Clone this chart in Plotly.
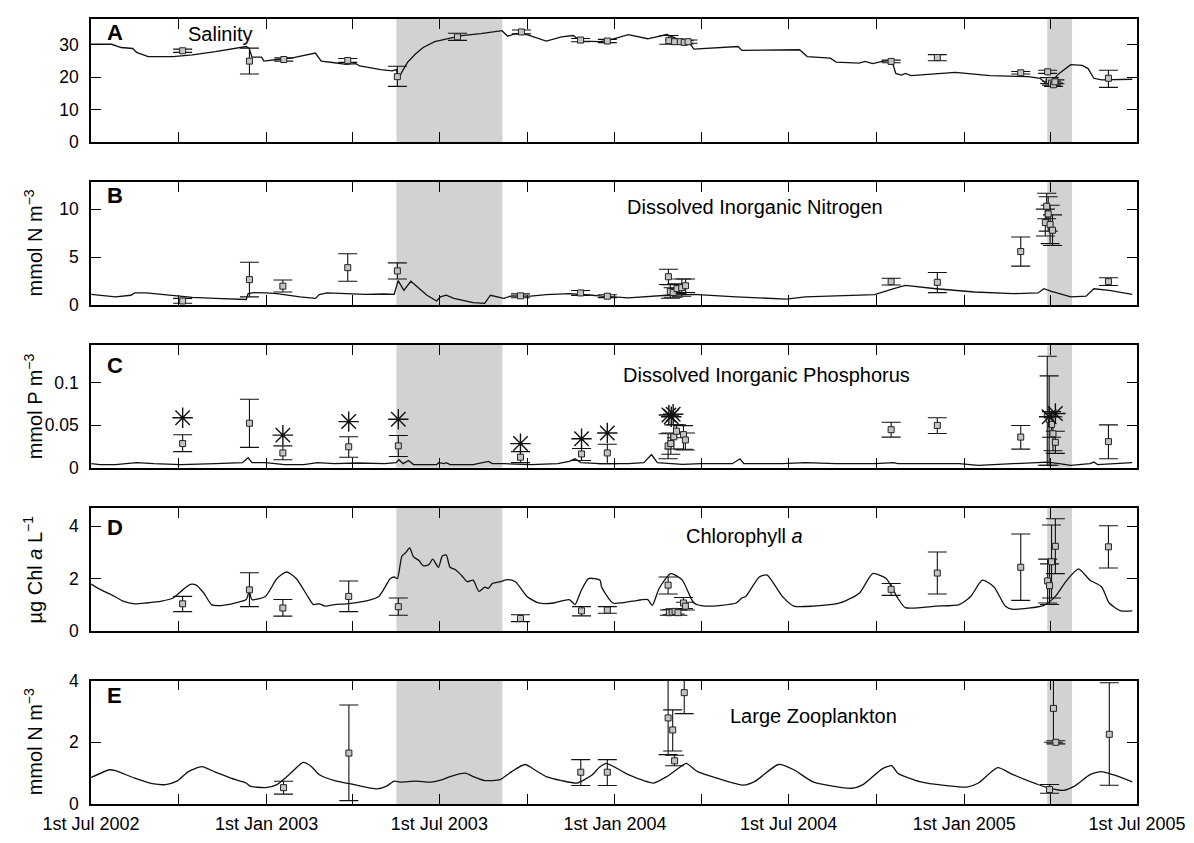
import plotly.graph_objects as go
from plotly.subplots import make_subplots
import pandas as pd

START = pd.Timestamp('2002-07-01')
END = pd.Timestamp('2005-07-01')

# ---------------- Data (days since 1 Jul 2002) ----------------
# Panel A: salinity model
sal_days = [0, 21.5, 31.6, 43.7, 47.7, 59.8, 86, 106.2, 130.3, 162.6, 165.8, 168.6, 178.7, 181.1, 194.8,
            211, 235.1, 241.2, 255.3, 267.4, 277.4, 281.5, 303.6, 315.7, 319.8, 322.6, 325.8, 331.8, 339.9,
            348, 360.1, 372.2, 388.3, 408.4, 430.6, 436.6, 444.7, 456.8, 477, 493.1, 505.2, 513.2, 533.4,
            543, 563.1, 583.3, 603.4, 615.5, 625.6, 631.7, 678, 682, 742.5, 750.5, 774.7, 780.8, 805, 811,
            819.1, 829.1, 839.2, 843.2, 849.3, 853.3, 859.4, 905.7, 925.9, 942, 982.3, 994.4, 1000.4,
            1006.5, 1014.5, 1026.6, 1038.7, 1044.8, 1050.8, 1058.9, 1091.1]
sal_vals = [30.2, 30.2, 29.2, 28.9, 27.7, 26.4, 26.4, 26.9, 27.9, 29.5, 28.9, 26.2, 26.2, 25.0, 25.5,
            26.0, 27.5, 25.0, 24.5, 24.0, 24.2, 23.5, 22.4, 22.0, 22.4, 19.7, 21.7, 24.7, 27.2,
            29.2, 31.0, 31.9, 32.9, 33.5, 34.4, 32.7, 33.5, 33.2, 31.2, 32.5, 32.9, 31.2, 31.0,
            31.5, 33.2, 31.9, 33.2, 31.7, 31.2, 28.7, 29.5, 28.3, 28.5, 26.4, 25.9, 24.7, 24.4, 24.9,
            24.2, 24.9, 25.2, 21.2, 20.7, 21.2, 20.5, 21.5, 21.0, 20.5, 20.2, 19.7, 18.2,
            18.7, 21.2, 23.9, 23.7, 22.7, 19.7, 19.2, 19.4]
sal_obs_days = [96, 166, 202, 269, 321, 384, 451, 513, 541, 605.5, 611.5, 617.5, 621.6, 625.6,
                838.4, 886.8, 974.2, 1002.4, 1004.4, 1006.5, 1008.5, 1010, 1066.1]
sal_obs = [28.2, 25.0, 25.5, 25.2, 20.2, 32.5, 34.0, 31.5, 31.2, 31.3, 31.0, 31.0, 30.8, 31.0,
           24.9, 26.1, 21.4, 21.7, 19.0, 18.2, 17.7, 18.6, 19.7]
sal_err_hi = [0.5, 4.0, 0.5, 0.6, 3.2, 1.1, 0.6, 0.5, 0.5, 1.6, 0.5, 0.5, 0.5, 0.5,
              0.4, 0.9, 0.4, 0.5, 0.9, 0.6, 0.5, 0.6, 2.5]
sal_err_lo = [0.5, 4.0, 0.5, 0.6, 3.0, 1.1, 0.6, 0.5, 0.5, 1.1, 0.5, 0.5, 0.5, 0.5,
              0.4, 1.0, 0.4, 0.5, 0.9, 0.6, 0.5, 0.6, 2.8]

# Panel B: dissolved inorganic nitrogen
din_days = [0.2, 13.5, 25.6, 41.7, 45.7, 57.8, 73.9, 90.0, 106.2, 130.3, 162.6, 164.6, 170.6, 182.7, 194.8,
            219.0, 235.1, 239.2, 247.2, 267.4, 287.5, 307.7, 317.7, 321.8, 327.8, 335.1, 343.9, 352.0,
            362.1, 366.1, 372.2, 380.2, 400.4, 412.5, 418.5, 424.5, 432.6, 440.7, 460.8, 477.0, 501.1,
            525.3, 534.9, 563.1, 583.3, 603.4, 631.7, 676.0, 728.4, 748.5, 780.8, 821.1, 841.2, 853.3,
            885.6, 905.7, 925.9, 966.2, 992.4, 998.4, 1006.5, 1026.6, 1042.7, 1050.8, 1066.9, 1091.1]
din_vals = [1.11, 0.95, 0.84, 1.01, 1.25, 1.25, 1.11, 0.95, 0.78, 0.68, 0.57, 1.18, 1.28, 1.25, 1.18,
            0.84, 0.68, 1.08, 1.25, 1.18, 1.11, 1.14, 1.11, 2.53, 1.52, 2.47, 1.69, 1.01,
            0.41, 0.84, 1.01, 0.68, 0.24, 0.17, 1.01, 0.84, 0.68, 0.95, 0.91, 1.08, 1.18,
            1.01, 0.91, 0.74, 0.91, 1.01, 1.11, 0.84, 0.61, 0.84, 0.95, 1.08, 1.69, 2.03,
            1.69, 1.52, 1.35, 1.18, 1.25, 1.69, 1.42, 0.84, 0.91, 1.69, 1.52, 1.11]
din_obs_days = [96, 166, 201, 269, 321, 450, 513, 541, 605, 607, 610, 614, 619, 623,
                838.4, 886.8, 974.2, 1000, 1001.4, 1003, 1005, 1007.5, 1066.1]
din_obs = [0.41, 2.64, 1.96, 3.89, 3.55, 0.95, 1.25, 0.91, 2.94, 1.4, 1.3, 1.7, 1.8, 2.0,
           2.43, 2.36, 5.57, 8.6, 10.3, 9.5, 8.4, 7.8, 2.43]
din_err_hi = [0.27, 1.82, 0.64, 1.45, 0.84, 0.2, 0.25, 0.15, 0.78, 0.7, 0.5, 0.5, 0.9, 0.7,
              0.35, 1.02, 1.52, 1.4, 1.36, 1.8, 2.0, 1.6, 0.4]
din_err_lo = [0.24, 1.8, 0.61, 1.42, 0.85, 0.2, 0.25, 0.15, 0.81, 0.7, 0.5, 0.5, 0.9, 0.7,
              0.35, 1.08, 1.52, 1.4, 1.3, 1.8, 2.0, 1.6, 0.4]

# Panel C: dissolved inorganic phosphorus
dip_days = [0.2, 9.4, 25.6, 47.7, 65.9, 94.1, 130.3, 158.5, 164.6, 168.6, 182.7, 202.9, 223.0, 237.1,
            255.3, 279.5, 307.7, 319.8, 322.6, 327.0, 332.7, 337.9, 362.1, 364.1, 370.1, 372.2, 376.2,
            400.4, 416.5, 420.5, 432.6, 460.8, 489.0, 501.1, 507.2, 513.2, 533.4,
            534.9, 563.1, 579.3, 587.3, 593.4, 607.5, 619.6, 639.7, 672.0, 680.0, 684.0, 724.4, 748.5,
            780.8, 821.1, 841.2, 845.3, 885.6, 909.7, 929.9, 966.2, 994.4, 1002.4, 1014.5, 1026.6,
            1046.8, 1050.8, 1054.8, 1091.1]
dip_vals = [0.0049, 0.0038, 0.0038, 0.0061, 0.0049, 0.0038, 0.0049, 0.0061, 0.0118, 0.0061, 0.0061,
            0.0038, 0.0038, 0.0061, 0.0049, 0.0057, 0.0049, 0.0061, 0.0095, 0.0049, 0.0087, 0.0038,
            0.0038, 0.0061, 0.0049, 0.0061, 0.0038, 0.0038, 0.0076, 0.0049, 0.0049, 0.0038, 0.0049,
            0.0076, 0.0106, 0.0061, 0.0049,
            0.0049, 0.0049, 0.0061, 0.0156, 0.0061, 0.0049, 0.0042, 0.0049, 0.0049, 0.0106, 0.0049,
            0.0049, 0.0061, 0.0049, 0.0049, 0.0061, 0.0049, 0.0049, 0.0049, 0.0030, 0.0049, 0.0061,
            0.0068, 0.0049, 0.0030, 0.0049, 0.0068, 0.0038, 0.0061]
dip_obs_days = [96, 166, 201, 270, 322, 450, 514, 541, 604.7, 607.5, 610.7, 613.5, 620.8, 622.8,
                838.4, 886.8, 974.2, 1002, 1004, 1006.5, 1008, 1010.5, 1066.1]
dip_obs = [0.0285, 0.0524, 0.0175, 0.0247, 0.0258, 0.0125, 0.0163, 0.0175, 0.0258, 0.0285, 0.0365,
           0.043, 0.039, 0.0327, 0.0448, 0.0498, 0.0361, 0.062, 0.057, 0.051, 0.040, 0.030, 0.0308]
dip_err_hi = [0.0103, 0.0282, 0.0083, 0.0118, 0.0122, 0.0065, 0.0065, 0.0102, 0.0142, 0.0125, 0.014,
              0.0076, 0.0106, 0.0083, 0.0088, 0.0091, 0.0137, 0.069, 0.051, 0.015, 0.02, 0.013, 0.0197]
dip_err_lo = [0.0095, 0.0284, 0.008, 0.0122, 0.0125, 0.0064, 0.0076, 0.0126, 0.0152, 0.0125, 0.0144,
              0.0076, 0.0171, 0.0117, 0.0087, 0.0095, 0.0141, 0.059, 0.054, 0.015, 0.02, 0.013, 0.0202]
dip_star_days = [96, 201, 270, 322, 450, 514, 541, 605.5, 608, 610, 1004, 1010.5]
dip_star = [0.0589, 0.0384, 0.0543, 0.057, 0.0285, 0.0342, 0.041, 0.062, 0.060, 0.063, 0.060, 0.0638]

# Panel D: chlorophyll a
chl_days = [0.2, 9.4, 21.5, 33.6, 45.7, 57.8, 73.9, 86.0, 96.1, 104.1, 110.2, 118.3, 126.3, 138.4, 154.5,
            162.6, 165.8, 168.6, 182.7, 194.8, 204.9, 215.0, 227.1, 233.1, 239.2, 245.2, 255.3, 267.4,
            287.5, 301.6, 313.7, 317.7, 321.0, 325.8, 329.8, 333.9, 337.9, 343.9, 348.0, 354.0, 358.0,
            364.1, 368.1, 372.2, 376.2, 382.2, 388.3, 394.3, 400.4, 406.4, 412.5, 416.5, 420.5, 428.6,
            436.6, 444.7, 456.8, 468.9, 485.0, 501.1, 507.2, 513.2, 521.3, 533.4,
            534.9, 547.0, 567.2, 583.3, 588.1, 595.4, 607.5, 619.6, 631.7, 643.7, 676.0, 682.0, 686.1,
            700.2, 708.2, 724.4, 736.4, 756.6, 784.8, 805.0, 819.1, 833.2, 845.3, 853.3, 885.6, 909.7,
            921.8, 933.9, 946.0, 958.1, 966.2, 998.4, 1010.5, 1022.6, 1034.7, 1046.8, 1058.9, 1066.9,
            1079.0, 1091.1]
chl_vals = [1.79, 1.59, 1.38, 1.14, 1.04, 1.07, 1.14, 1.26, 1.57, 1.78, 1.75, 1.44, 1.01, 0.98, 1.10,
            1.20, 1.51, 1.20, 1.32, 2.00, 2.25, 2.00, 1.32, 1.01, 1.04, 0.95, 1.01, 1.04,
            1.14, 1.32, 2.00, 2.06, 2.00, 2.86, 2.99, 3.17, 2.83, 2.68, 2.49, 2.53, 2.74,
            2.43, 2.86, 2.90, 2.43, 2.33, 2.12, 1.88, 1.94, 1.51, 1.67, 1.63, 1.81, 1.88,
            1.96, 1.88, 1.32, 1.07, 1.07, 1.20, 1.01, 1.51, 2.00, 1.94,
            1.69, 1.07, 1.14, 1.20, 0.98, 1.63, 2.19, 1.94, 1.07, 0.95, 1.07, 1.26, 1.32,
            2.06, 2.14, 1.32, 0.95, 0.95, 1.07, 1.44, 2.19, 2.00, 1.26, 0.89, 0.95, 1.01,
            1.32, 1.94, 1.69, 0.95, 0.83, 0.98, 1.32, 1.94, 2.37, 1.94, 1.69, 1.07,
            0.77, 0.77]
chl_obs_days = [96, 166, 201, 270, 322, 450, 514, 541, 604.7, 606, 609, 612, 615, 620.8, 622.8,
                838.4, 886.8, 974.2, 1002.4, 1004.4, 1006.5, 1010.5, 1066.1]
chl_obs = [1.04, 1.57, 0.88, 1.32, 0.93, 0.48, 0.77, 0.80, 1.75, 0.70, 0.72, 0.75, 0.70, 1.07, 0.95,
           1.59, 2.21, 2.43, 1.91, 1.73, 2.64, 3.23, 3.21]
chl_err_hi = [0.28, 0.65, 0.32, 0.59, 0.33, 0.14, 0.16, 0.13, 0.31, 0.1, 0.1, 0.1, 0.1, 0.21, 0.15,
              0.22, 0.8, 1.27, 0.83, 0.83, 1.4, 1.05, 0.8]
chl_err_lo = [0.30, 0.64, 0.31, 0.58, 0.33, 0.12, 0.19, 0.12, 0.34, 0.1, 0.1, 0.1, 0.1, 0.21, 0.15,
              0.23, 0.8, 1.26, 0.84, 0.72, 1.38, 1.04, 0.81]

# Panel E: large zooplankton
zoo_days = [0.2, 19.5, 25.6, 45.7, 65.9, 78.0, 90.0, 102.1, 116.2, 130.3, 146.5, 162.6, 166.6, 182.7,
            194.8, 211.0, 222.2, 231.1, 239.2, 255.3, 275.4, 299.6, 309.7, 317.7, 323.8, 339.9, 356.0,
            368.1, 376.2, 392.3, 400.4, 412.5, 428.6, 440.7, 454.8, 464.8, 477.0, 493.1, 509.2, 525.3,
            533.0, 540.0, 563.1, 589.3, 603.4, 615.5, 623.6, 635.7, 655.8, 684.0, 696.1, 720.3, 736.4,
            756.6, 796.9, 809.0, 829.1, 839.2, 845.3, 869.4, 917.8, 929.9, 950.0, 966.2, 1002.4,
            1018.6, 1030.6, 1046.8, 1058.9, 1070.9, 1091.1]
zoo_vals = [0.86, 1.11, 1.08, 0.84, 0.65, 0.63, 0.74, 1.05, 1.21, 1.03, 0.84, 0.68, 0.58, 0.53,
            0.63, 1.05, 1.35, 1.21, 0.95, 0.76, 0.63, 0.49, 0.58, 0.74, 0.71, 0.74, 0.71,
            0.79, 0.89, 1.00, 0.89, 0.76, 0.79, 1.05, 1.28, 1.11, 0.89, 0.76, 0.68, 0.95,
            1.20, 1.32, 0.95, 0.68, 0.89, 1.16, 1.32, 1.05, 0.84, 0.61, 0.74, 1.28, 1.11,
            0.72, 0.51, 0.63, 1.14, 1.24, 1.00, 0.72, 0.55, 0.68, 1.18, 0.95, 0.53,
            0.44, 0.58, 0.95, 1.05, 0.95, 0.72]
zoo_obs_days = [201.7, 270.2, 513.2, 541, 604.7, 609.5, 611.5, 621.6, 1004.4, 1008.5, 1011, 1067]
zoo_obs = [0.53, 1.65, 1.03, 1.03, 2.79, 2.40, 1.40, 3.61, 0.47, 3.10, 2.00, 2.26]
zoo_err_hi = [0.21, 1.56, 0.41, 0.41, 1.6, 0.65, 0.18, 0.8, 0.16, 1.5, 0.05, 1.67]
zoo_err_lo = [0.21, 1.54, 0.43, 0.43, 1.19, 0.68, 0.16, 0.68, 0.12, 1.1, 0.05, 1.65]

# Shaded periods
shade_periods = [('2003-05-17', '2003-09-05'), ('2005-03-29', '2005-04-24')]

# Ticks (labelled every 6 months, minor ticks every 3 months)
tick_dates = ['2002-07-01', '2003-01-01', '2003-07-01', '2004-01-01', '2004-07-01', '2005-01-01',
              '2005-07-01']
tick_text = ['1st Jul 2002', '1st Jan 2003', '1st Jul 2003', '1st Jan 2004', '1st Jul 2004',
             '1st Jan 2005', '1st Jul 2005']

panel_letters = ['A', 'B', 'C', 'D', 'E']
panel_titles = ['Salinity', 'Dissolved Inorganic Nitrogen', 'Dissolved Inorganic Phosphorus',
                'Chlorophyll <i>a</i>', 'Large Zooplankton']
y_titles = [None, 'mmol N m<sup>\u22123</sup>', 'mmol P m<sup>\u22123</sup>',
            '\u00b5g Chl <i>a</i> L<sup>\u22121</sup>', 'mmol N m<sup>\u22123</sup>']
y_ranges = [[0, 38], [0, 12.84], [0, 0.1445], [0, 4.69], [0, 4.0]]
y_ticks = [[0, 10, 20, 30], [0, 5, 10], [0, 0.05, 0.1], [0, 2, 4], [0, 2, 4]]
y_ticktext = [['0', '10', '20', '30'], ['0', '5', '10'], ['0', '0.05', '0.1'], ['0', '2', '4'],
              ['0', '2', '4']]

# ---------------- Layout geometry ----------------
W, H = 1194, 843
ML, MR, MT, MB = 91, 57, 9, 26
PH = H - MT - MB
PW = W - ML - MR
panel_px = [(9, 135.7), (176.7, 303.3), (344.3, 471), (512.3, 639), (690, 817)]
domains = [[(817 - b) / PH, (817 - t) / PH] for t, b in panel_px]
letter_y_px = [22.5, 191, 365.7, 532.5, 705.7]
title_px = [(220, 24), (755, 202.5), (766, 375), (744, 541), (813, 726)]
line_shapes = ['linear', 'linear', 'linear', 'spline', 'spline']

FONT = 'Liberation Sans, Arial, Helvetica, sans-serif'


def to_dates(days):
    return [START + pd.Timedelta(days=float(d)) for d in days]


fig = make_subplots(rows=5, cols=1, shared_xaxes=True, vertical_spacing=0.03)

series = [
    (sal_days, sal_vals, sal_obs_days, sal_obs, sal_err_hi, sal_err_lo),
    (din_days, din_vals, din_obs_days, din_obs, din_err_hi, din_err_lo),
    (dip_days, dip_vals, dip_obs_days, dip_obs, dip_err_hi, dip_err_lo),
    (chl_days, chl_vals, chl_obs_days, chl_obs, chl_err_hi, chl_err_lo),
    (zoo_days, zoo_vals, zoo_obs_days, zoo_obs, zoo_err_hi, zoo_err_lo),
]

for i, (md, mv, od, ov, eh, el) in enumerate(series):
    r = i + 1
    fig.add_trace(go.Scatter(x=to_dates(md), y=mv, mode='lines',
                             line=dict(color='#111111', width=1.3, shape=line_shapes[i],
                                       smoothing=0.6),
                             showlegend=False, hoverinfo='skip'), row=r, col=1)
    fig.add_trace(go.Scatter(x=to_dates(od), y=ov, mode='markers',
                             marker=dict(symbol='square', size=6, color='#c4c4c4',
                                         line=dict(color='#222222', width=1)),
                             error_y=dict(type='data', symmetric=False, array=eh, arrayminus=el,
                                          color='#111111', thickness=1.1, width=9.5),
                             showlegend=False), row=r, col=1)
    if i == 2:
        fig.add_trace(go.Scatter(x=to_dates(dip_star_days), y=dip_star, mode='markers',
                                 marker=dict(symbol='asterisk-open', size=17, color='#111111',
                                             line=dict(color='#111111', width=1.4)),
                                 showlegend=False), row=r, col=1)

x_range = [START - pd.Timedelta(hours=1), END + pd.Timedelta(hours=1)]

for i in range(5):
    r = i + 1
    xa = 'xaxis' if r == 1 else f'xaxis{r}'
    ya = 'yaxis' if r == 1 else f'yaxis{r}'
    fig.layout[ya].update(domain=domains[i], range=y_ranges[i], tickvals=y_ticks[i],
                          ticktext=y_ticktext[i], ticks='inside', ticklen=10, tickwidth=1.3,
                          tickcolor='black', showline=True, linecolor='black', linewidth=1.6,
                          mirror='ticks', showgrid=False, zeroline=False,
                          tickfont=dict(family=FONT, size=17.5, color='black'),
                          ticklabelstandoff=7)
    fig.layout[xa].update(type='date', range=x_range, tickvals=tick_dates, ticktext=tick_text,
                          ticks='inside', ticklen=10, tickwidth=1.3, tickcolor='black',
                          minor=dict(ticks='inside', ticklen=10, tickwidth=1.3, tickcolor='black',
                                     dtick='M3', tick0='2002-07-01', showgrid=False),
                          showline=True, linecolor='black', linewidth=1.6, mirror='ticks',
                          showgrid=False, zeroline=False, showticklabels=(r == 5),
                          tickfont=dict(family=FONT, size=18, color='black'),
                          ticklabelstandoff=3)
    xref = 'x' if r == 1 else f'x{r}'
    yd = 'y domain' if r == 1 else f'y{r} domain'
    xd = 'x domain' if r == 1 else f'x{r} domain'
    for (s0, s1) in shade_periods:
        fig.add_shape(type='rect', xref=xref, yref=yd, x0=s0, x1=s1, y0=0, y1=1,
                      fillcolor='#d1d2d4', line=dict(width=0), layer='below')
    t, b = panel_px[i]
    fig.add_annotation(xref=xd, yref=yd, x=(114.5 - ML) / PW, y=(b - letter_y_px[i]) / (b - t),
                       text='<b>' + panel_letters[i] + '</b>', showarrow=False,
                       xanchor='center', yanchor='middle',
                       font=dict(family=FONT, size=22, color='black'))
    tx, ty = title_px[i]
    fig.add_annotation(xref=xd, yref=yd, x=(tx - ML) / PW, y=(b - ty) / (b - t),
                       text=panel_titles[i], showarrow=False, xanchor='center', yanchor='middle',
                       font=dict(family=FONT, size=20, color='black'))
    if y_titles[i]:
        fig.add_annotation(xref='paper', yref=yd, x=(33 - ML) / PW, y=0.5, text=y_titles[i],
                           textangle=-90, showarrow=False, xanchor='center', yanchor='middle',
                           font=dict(family=FONT, size=20, color='black'))

fig.update_layout(width=W, height=H, margin=dict(l=ML, r=MR, t=MT, b=MB),
                  plot_bgcolor='white', paper_bgcolor='white', showlegend=False,
                  font=dict(family=FONT, color='black'))

fig.write_html('out.html', config={'displayModeBar': False},
               post_script="document.body.style.margin='0px';")
